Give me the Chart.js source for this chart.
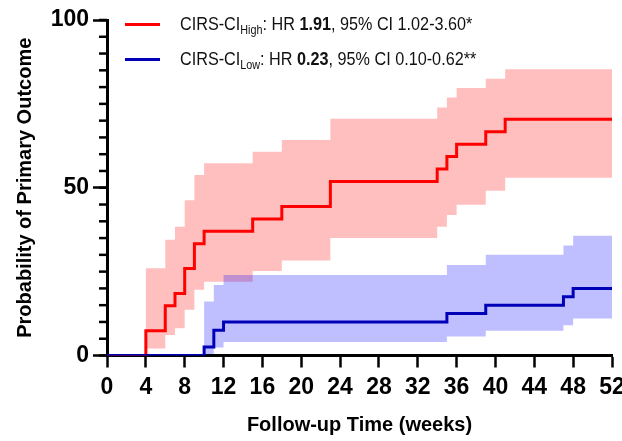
<!DOCTYPE html>
<html>
<head>
<meta charset="utf-8">
<script src="https://cdn.jsdelivr.net/npm/chart.js@4.4.1/dist/chart.umd.min.js"></script>
<style>
  body { margin: 0; background: #fff; }
  #wrap { position: relative; width: 622px; height: 441px; font-family: "Liberation Sans", Arial, sans-serif; }
  .key { position: absolute; left: 125px; width: 35px; height: 3px; }
  .lbl { position: absolute; left: 180px; font-size: 18px; color: #111; white-space: nowrap; line-height: 22px;
         transform: scaleX(0.9); transform-origin: 0 0; }
  .lbl sub { font-size: 12px; vertical-align: -4px; line-height: 0; }
</style>
</head>
<body>
<div id="wrap">
  <canvas id="km" width="622" height="441"></canvas>
  <div class="key" style="top:22.5px;background:#ff0000"></div>
  <div class="lbl" style="top:13px">CIRS-CI<sub>High</sub>: HR <b>1.91</b>, 95% CI 1.02-3.60*</div>
  <div class="key" style="top:57.5px;background:#0000b8"></div>
  <div class="lbl" style="top:48px">CIRS-CI<sub>Low</sub>: HR <b>0.23</b>, 95% CI 0.10-0.62**</div>
</div>
<script>
// step times (weeks) and cumulative probability (%)
const highWeeks = [0, 4, 6, 7, 8, 9, 10, 15, 18, 23, 34, 35, 36, 39, 41, 52];
const highEst   = [0, 7.4, 14.8, 18.5, 25.9, 33.3, 37.0, 40.7, 44.4, 51.9, 55.6, 59.3, 63.0, 66.7, 70.4, 70.4];
const highUpper = [0, 26.0, 34.5, 38.4, 46.3, 53.8, 57.3, 60.7, 64.2, 70.6, 73.9, 76.9, 79.7, 82.5, 85.3, 85.3];
const highLower = [0, 2.1, 6.1, 8.1, 13.6, 19.6, 22.0, 25.2, 28.3, 35.0, 38.4, 41.9, 44.9, 49.1, 53.0, 53.0];

const lowWeeks = [0, 10, 11, 12, 35, 39, 47, 48, 52];
const lowEst   = [0, 2.5, 7.5, 10.0, 12.5, 15.0, 17.5, 20.0, 20.0];
const lowUpper = [0, 16.1, 21.0, 24.0, 27.0, 30.0, 32.8, 35.7, 35.7];
const lowLower = [0, 0.4, 2.4, 4.0, 5.7, 7.4, 9.0, 11.0, 11.0];

const xTicks = [0, 52, 4];   // min, max, step
const yTicks = [0, 100, 50]; // min, max, step
const yMinorStep = 5;

const pts = (xs, ys) => xs.map((x, i) => ({x: x, y: ys[i]}));

const font = "'Liberation Sans', Arial, sans-serif";

const band = (xs, ys, fill, bg) => ({
    data: pts(xs, ys),
    stepped: true,
    borderWidth: 0,
    pointRadius: 0,
    fill: fill,
    backgroundColor: bg
});

// short minor ticks on the y axis, placed with the y scale
const minorTicks = {
    id: 'minorTicks',
    afterDraw(chart) {
        const s = chart.scales.y;
        const c = chart.ctx;
        c.save();
        c.strokeStyle = '#000';
        c.lineWidth = 2.5;
        for (let v = s.min; v <= s.max; v += yMinorStep) {
            const py = s.getPixelForValue(v);
            c.beginPath();
            c.moveTo(s.right - 8, py);
            c.lineTo(s.right, py);
            c.stroke();
        }
        c.restore();
    }
};

const ctx = document.getElementById('km').getContext('2d');

const chart = new Chart(ctx, {
    type: 'line',
    data: {
        datasets: [
            band(lowWeeks, lowUpper, '+1', 'rgba(0,0,255,0.25)'),
            band(lowWeeks, lowLower, false, 'rgba(0,0,255,0.25)'),
            band(highWeeks, highUpper, '+1', 'rgba(255,0,0,0.25)'),
            band(highWeeks, highLower, false, 'rgba(255,0,0,0.25)'),
            {
                data: pts(lowWeeks, lowEst),
                stepped: true,
                borderColor: '#0000b8',
                borderWidth: 3,
                pointRadius: 0,
                fill: false
            },
            {
                data: pts(highWeeks, highEst),
                stepped: true,
                borderColor: '#ff0000',
                borderWidth: 3,
                pointRadius: 0,
                fill: false
            }
        ]
    },
    options: {
        responsive: false,
        animation: false,
        layout: { padding: { top: 20, right: 10, left: 0, bottom: 0 } },
        scales: {
            x: {
                type: 'linear',
                min: xTicks[0],
                max: xTicks[1],
                ticks: { stepSize: xTicks[2], color: '#000', padding: 6, maxRotation: 0, autoSkip: false,
                         font: { family: font, size: 23, weight: 'bold' } },
                grid: { display: true, drawOnChartArea: false, drawTicks: true, tickLength: 12, tickWidth: 2.5, tickColor: '#000' },
                border: { display: true, color: '#000', width: 3 },
                title: { display: true, text: 'Follow-up Time (weeks)', color: '#000',
                         font: { family: font, size: 20, weight: 'bold' }, padding: { top: 0, bottom: 4 } },
                afterFit: function(s) { s.height = 85.5; s.paddingLeft = 0; s.paddingRight = 0; }
            },
            y: {
                min: yTicks[0],
                max: yTicks[1],
                ticks: { stepSize: yTicks[2], color: '#000', padding: 4,
                         font: { family: font, size: 23, weight: 'bold' } },
                grid: { display: true, drawOnChartArea: false, drawTicks: true, tickLength: 14, tickWidth: 2.5, tickColor: '#000' },
                border: { display: true, color: '#000', width: 3 },
                title: { display: true, text: 'Probability of Primary Outcome', color: '#000',
                         font: { family: font, size: 20, weight: 'bold' }, padding: { top: 13, bottom: 0 } },
                afterFit: function(s) { s.width = 107; }
            }
        },
        plugins: {
            legend: { display: false },
            tooltip: { enabled: false },
            filler: { drawTime: 'beforeDatasetsDraw' }
        }
    },
    plugins: [minorTicks]
});
</script>
</body>
</html>
